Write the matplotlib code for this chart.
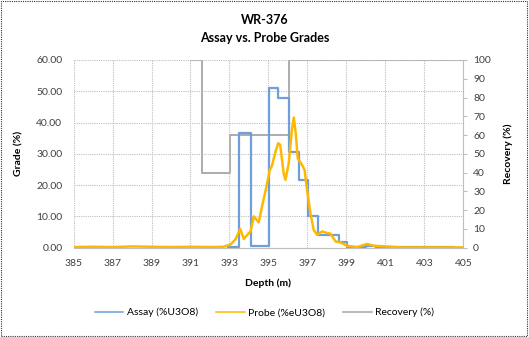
import matplotlib
matplotlib.use('Agg')
import matplotlib.pyplot as plt
from matplotlib.patches import Rectangle
from matplotlib.ticker import FormatStrFormatter, MultipleLocator

plt.rcParams['font.family'] = ['Lato', 'DejaVu Sans']

# Assay grades (%U3O8) - interval start depths, step-post
assay_depth = [392.9, 393.5, 394.08, 395.05, 395.5, 396.07, 396.55, 397.03,
               397.55, 398.6, 399.03, 400.0, 400.5, 404.5]
assay_grade = [0.2, 36.8, 0.5, 51.2, 47.8, 30.6, 21.5, 10.0,
               4.1, 1.7, 0.3, 0.7, 0.2, 0.2]

# Probe grades (%eU3O8)
probe_depth = [385.0, 386.0, 387.0, 388.0, 389.0, 390.0, 391.0, 392.0, 392.7,
               393.05, 393.3, 393.55, 393.73, 394.08, 394.25, 394.5, 394.67,
               394.9, 395.07, 395.18, 395.36, 395.5, 395.6, 395.78, 395.87,
               396.04, 396.2, 396.3, 396.4, 396.5, 396.72, 396.85, 396.98,
               397.15, 397.32, 397.5, 397.75, 398.0, 398.18, 398.44, 398.7,
               399.03, 399.55, 400.06, 400.4, 401.08, 401.77, 403.0, 404.0, 405.0]
probe_grade = [0.2, 0.3, 0.2, 0.4, 0.3, 0.2, 0.3, 0.2, 0.3,
               1.0, 2.6, 6.0, 2.8, 5.2, 10.0, 8.1, 13.2,
               19.6, 24.9, 26.2, 30.7, 33.4, 32.9, 23.8, 21.7,
               27.0, 37.7, 41.6, 36.5, 28.6, 26.5, 24.9, 18.5,
               11.1, 5.7, 4.1, 5.2, 4.7, 4.5, 2.0, 1.7,
               0.6, 0.2, 1.2, 0.6, 0.4, 0.1, 0.1, 0.1, 0.1]

# Core recovery (%)
rec_depth = [391.1, 391.6, 393.05, 396.07, 405.0]
rec_value = [100, 40, 60, 100, 100]

x_ticks = list(range(385, 406, 2))

fig = plt.figure(figsize=(5.29, 3.37), dpi=100)
ax = fig.add_axes([0.139, 0.265, 0.737, 0.557])
ax2 = ax.twinx()

ax.plot(assay_depth, assay_grade, drawstyle='steps-post', color='#6E9FDB',
        lw=1.6, zorder=3)
ax.plot(probe_depth, probe_grade, color='#FFB800', lw=1.8, zorder=4)
ax2.plot(rec_depth, rec_value, drawstyle='steps-post', color='#A6A6A6',
         lw=1.3, zorder=2)

ax.set_zorder(ax2.get_zorder() + 1)
ax.patch.set_visible(False)

ax.set_xlim(385, 405)
ax.set_ylim(0, 60)
ax2.set_ylim(0, 100)
ax.set_xticks(x_ticks)
ax.yaxis.set_major_locator(MultipleLocator(10))
ax.yaxis.set_major_formatter(FormatStrFormatter('%.2f'))
ax2.yaxis.set_major_locator(MultipleLocator(10))

ax.grid(True, color='#BFBFBF', ls=(0, (1, 1)), lw=0.8)
ax.set_axisbelow(True)

for a in (ax, ax2):
    for s in a.spines.values():
        s.set_visible(False)
ax2.spines['right'].set_visible(True)
ax2.spines['right'].set_color('#BFBFBF')
ax2.spines['bottom'].set_visible(True)
ax2.spines['bottom'].set_color('#BFBFBF')

ax.tick_params(axis='x', length=0, labelsize=7.5, colors='#404040', pad=8)
ax.tick_params(axis='y', length=0, labelsize=7.5, colors='#404040', pad=8)
ax2.tick_params(axis='y', length=3, color='#BFBFBF', labelsize=7.5,
                labelcolor='#404040', pad=4)

ax.set_xlabel('Depth (m)', fontsize=7.5, fontweight='bold', labelpad=8)
ax.set_ylabel('Grade (%)', fontsize=7.5, fontweight='bold', labelpad=9)
ax2.set_ylabel('Recovery (%)', fontsize=7.5, fontweight='bold', labelpad=9)

fig.text(0.5, 0.94, 'WR-376', ha='center', va='center', fontsize=9,
         fontweight='bold')
fig.text(0.5, 0.887, 'Assay vs. Probe Grades', ha='center', va='center',
         fontsize=9, fontweight='bold')

handles = [ax.lines[0], ax.lines[1], ax2.lines[0]]
labels = ['Assay (%U3O8)', 'Probe (%eU3O8)', 'Recovery (%)']
leg = fig.legend(handles, labels, loc='center', bbox_to_anchor=(0.5, 0.073),
                 ncol=3, frameon=False, fontsize=7.5, handlelength=2.7,
                 handletextpad=0.3, columnspacing=1.8)
for line in leg.get_lines():
    line.set_linewidth(1.1)

fig.add_artist(Rectangle((0.002, 0.003), 0.995, 0.994, transform=fig.transFigure,
                         fill=False, ec='#333333', lw=0.8, ls=(0, (1, 1))))

fig.savefig('out.png', dpi=100)
